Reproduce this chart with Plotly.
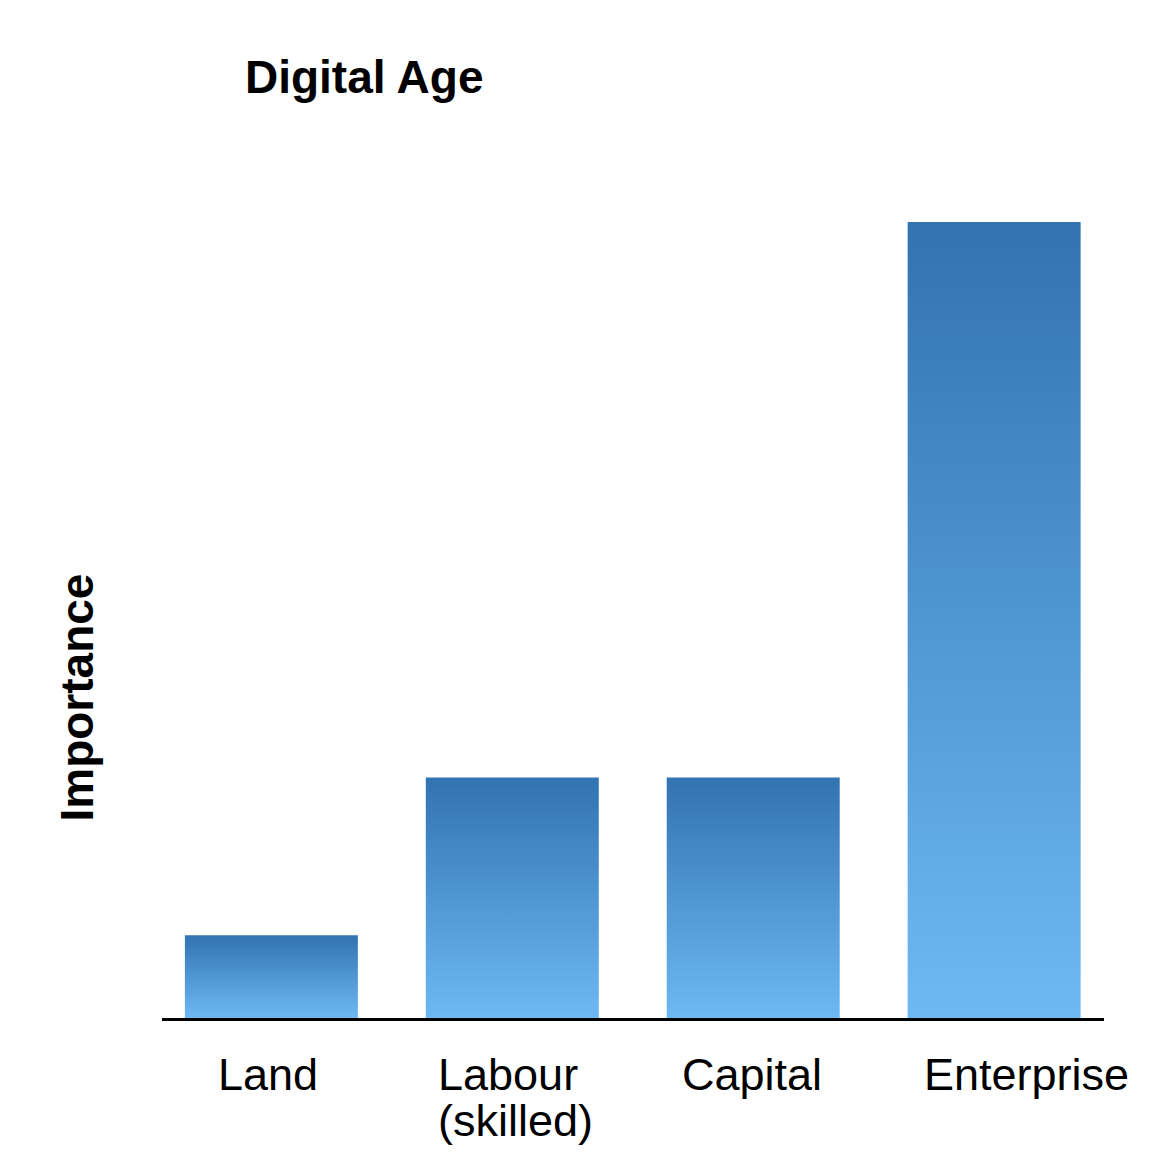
import plotly.graph_objects as go

# Factors of production in the digital age (relative importance)
CATEGORIES = ["Land", "Labour (skilled)", "Capital", "Enterprise"]
LABEL_LINES = [["Land"], ["Labour", "(skilled)"], ["Capital"], ["Enterprise"]]
IMPORTANCE = [1.04, 3.02, 3.02, 10.0]

TITLE = "Digital Age"
Y_TITLE = "Importance"

FONT = "Helvetica, 'Liberation Sans', Arial, sans-serif"
DARK = "#3273B1"
LIGHT = "#6DB9F4"
BAR_HALF = 0.359
# left edge of each label relative to its bar centre, in px
LABEL_SHIFT = [-55, -76, -73, -72]

fig = go.Figure()

for i, (name, val) in enumerate(zip(CATEGORIES, IMPORTANCE)):
    x0, x1 = i - BAR_HALF, i + BAR_HALF
    fig.add_trace(go.Scatter(
        x=[x0, x1, x1, x0, x0],
        y=[0, 0, val, val, 0],
        mode="lines",
        line=dict(width=0),
        fill="toself",
        fillgradient=dict(
            type="vertical",
            colorscale=[[0, LIGHT], [1, DARK]],
            start=0,
            stop=val,
        ),
        name=name,
        hoverinfo="skip",
        showlegend=False,
    ))

# category labels under the axis
for i, lines in enumerate(LABEL_LINES):
    for j, line in enumerate(lines):
        fig.add_annotation(
            x=i, y=0, xref="x", yref="paper",
            text=line, showarrow=False,
            xanchor="left", yanchor="top",
            xshift=LABEL_SHIFT[i], yshift=-29 - 46 * j,
            font=dict(family=FONT, size=45, color="black"),
        )

fig.add_annotation(
    x=-0.0897, y=0.402, xref="paper", yref="paper",
    text=f"<b>{Y_TITLE}</b>", showarrow=False, textangle=-90,
    xanchor="center", yanchor="middle",
    font=dict(family=FONT, size=46, color="black"),
)

# page body adds an 8px margin, so the figure is 8px smaller each way
fig.update_layout(
    width=1148,
    height=1144,
    margin=dict(l=154, r=52, t=214, b=134),
    paper_bgcolor="white",
    plot_bgcolor="white",
    title=dict(
        text=f"<b>{TITLE}</b>",
        x=0.0881, xref="paper", xanchor="left",
        y=1 - 69 / 1144, yref="container", yanchor="middle",
        font=dict(family=FONT, size=46, color="black"),
    ),
    xaxis=dict(
        range=[-0.454, 3.456],
        showgrid=False, zeroline=False,
        showticklabels=False, ticks="",
        showline=True, linecolor="black", linewidth=3,
    ),
    yaxis=dict(
        range=[0, 10],
        showgrid=False, zeroline=False,
        showticklabels=False, ticks="", showline=False,
    ),
)

fig.write_html("out.html")
